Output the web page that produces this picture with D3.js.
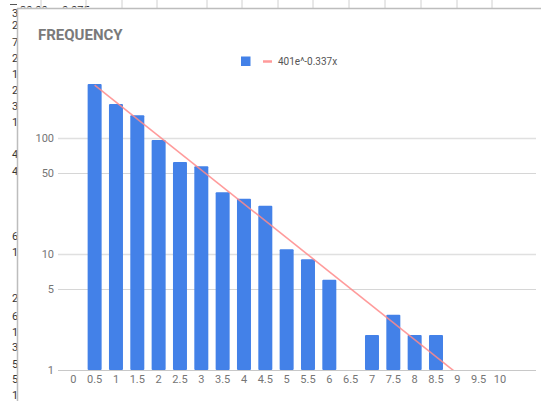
<!DOCTYPE html>
<html>
<head>
<meta charset="utf-8">
<script src="https://cdn.jsdelivr.net/npm/d3@7"></script>
<style>
  html, body { margin: 0; padding: 0; background: #fff; }
  svg { display: block; font-family: Roboto, "Noto Sans", sans-serif; }
</style>
</head>
<body>
<script>
// bucket labels (x) and counts (y)
const buckets = [0.5, 1, 1.5, 2, 2.5, 3, 3.5, 4, 4.5, 5, 5.5, 6, 6.5, 7, 7.5, 8, 8.5];
const counts = [292, 196, 157, 96, 62, 57, 34, 30, 26, 11, 9, 6, 1, 2, 3, 2, 2];
const xTicks = [0, 0.5, 1, 1.5, 2, 2.5, 3, 3.5, 4, 4.5, 5, 5.5, 6, 6.5, 7, 7.5, 8, 8.5, 9, 9.5, 10];
const yTicks = [1, 5, 10, 50, 100];
// trendline 401e^-0.337x, fitted on row index (index = 2 * bucket)
const trendA = 401;
const trendB = -0.337;
const trendRange = [0.5, 9.2];

// spreadsheet bits peeking out behind the chart card
const sheetColX = [41, 86, 122, 157, 207, 242, 278, 313, 349, 385, 421, 457, 492];
const sheetLeftDigits = [
  ["3", 13], ["2", 25], ["7", 42], ["2", 58], ["1", 74], ["2", 90], ["3", 106], ["1", 122],
  ["4", 154], ["4", 171], ["6", 236], ["1", 252], ["2", 298], ["6", 316], ["1", 332],
  ["3", 347], ["5", 364], ["5", 379], ["1", 395]
];

const width = 541, height = 401;
const svg = d3.select("body").append("svg")
  .attr("width", width)
  .attr("height", height);

/** BACKGROUND SHEET */
const sheet = svg.append("g").attr("class", "sheet");
sheet.append("clipPath").attr("id", "leftClip")
  .append("rect").attr("x", 0).attr("y", 0).attr("width", 17).attr("height", height);
sheet.append("clipPath").attr("id", "topClip")
  .append("rect").attr("x", 17).attr("y", 0).attr("width", width).attr("height", 7.5);

sheet.append("g").attr("clip-path", "url(#leftClip)")
  .selectAll("text")
  .data(sheetLeftDigits)
  .enter()
  .append("text")
  .attr("x", 12)
  .attr("y", (d) => d[1] + 4)
  .attr("font-size", "11px")
  .attr("fill", "#333")
  .text((d) => d[0]);

const topText = sheet.append("g").attr("clip-path", "url(#topClip)");
topText.append("text").attr("x", 20).attr("y", 14).attr("font-size", "11px").attr("fill", "#333").text("30.00");
topText.append("text").attr("x", 62).attr("y", 14).attr("font-size", "11px").attr("fill", "#333").text("0.075");

sheet.selectAll("line.col")
  .data(sheetColX)
  .enter()
  .append("line")
  .attr("class", "col")
  .attr("x1", (d) => d).attr("x2", (d) => d)
  .attr("y1", 0).attr("y2", 8)
  .attr("stroke", "#d0d0d0");
sheet.append("line")
  .attr("x1", 17).attr("x2", width).attr("y1", 8.5).attr("y2", 8.5)
  .attr("stroke", "#bdbdbd").attr("stroke-width", 1.5);
sheet.append("line")
  .attr("x1", 17.5).attr("x2", 17.5).attr("y1", 8).attr("y2", height)
  .attr("stroke", "#bdbdbd").attr("stroke-width", 1.5);
sheet.append("line")
  .attr("x1", 10).attr("x2", 17).attr("y1", 4.5).attr("y2", 4.5)
  .attr("stroke", "#555");

/** CHART */
const plotLeft = 58, plotRight = 536;
const x = d3.scaleLinear().domain([0, 10]).range([73.3, 500]);
const y = d3.scaleLog().domain([1, 300]).range([370, 370 - 116 * Math.log10(300)]);
const barWidth = 14;

// title
svg.append("text")
  .attr("x", 38)
  .attr("y", 40)
  .attr("font-size", "15px")
  .attr("font-weight", "bold")
  .attr("fill", "#7a7a7a")
  .text("FREQUENCY");

// gridlines
svg.append("g")
  .selectAll("line")
  .data(yTicks.filter((d) => d > 1))
  .enter()
  .append("line")
  .attr("x1", plotLeft).attr("x2", plotRight)
  .attr("y1", (d) => Math.round(y(d)) + 0.5)
  .attr("y2", (d) => Math.round(y(d)) + 0.5)
  .attr("stroke", (d) => (String(d)[0] === "1" ? "#e0e0e0" : "#d6d6d6"))
  .attr("stroke-width", (d) => (String(d)[0] === "1" ? 1.6 : 1));

// y labels
svg.append("g")
  .selectAll("text")
  .data(yTicks)
  .enter()
  .append("text")
  .attr("x", 54)
  .attr("y", (d) => y(d) + 4)
  .attr("text-anchor", "end")
  .attr("font-size", "11px")
  .attr("fill", "#757575")
  .text((d) => d);

// bars
svg.append("g")
  .selectAll("rect")
  .data(buckets)
  .enter()
  .append("rect")
  .attr("x", (d) => x(d) - barWidth / 2)
  .attr("y", (d, i) => y(counts[i]))
  .attr("width", barWidth)
  .attr("height", (d, i) => y(1) - y(counts[i]))
  .attr("rx", 1)
  .attr("fill", "#4381e8");

// baseline
svg.append("line")
  .attr("x1", plotLeft).attr("x2", plotRight)
  .attr("y1", 370.5).attr("y2", 370.5)
  .attr("stroke", "#c8c8c8")
  .attr("stroke-width", 1.2);

// x labels
svg.append("g")
  .selectAll("text")
  .data(xTicks)
  .enter()
  .append("text")
  .attr("x", (d) => x(d))
  .attr("y", 383)
  .attr("text-anchor", "middle")
  .attr("font-size", "11px")
  .attr("fill", "#757575")
  .text((d) => d);

// trendline
svg.append("clipPath").attr("id", "plotClip")
  .append("rect").attr("x", plotLeft).attr("y", 0).attr("width", plotRight - plotLeft).attr("height", 370);
const trendLine = d3.line()
  .x((d) => x(d))
  .y((d) => y(trendA * Math.exp(trendB * 2 * d)));
svg.append("path")
  .datum(trendRange)
  .attr("clip-path", "url(#plotClip)")
  .attr("d", trendLine)
  .attr("fill", "none")
  .attr("stroke", "#ff8a8a")
  .attr("stroke-opacity", 0.85)
  .attr("stroke-width", 1.6);

/** LEGEND */
const legend = svg.append("g");
legend.append("rect")
  .attr("x", 241).attr("y", 56.5)
  .attr("width", 9.5).attr("height", 9.5)
  .attr("fill", "#4381e8");
legend.append("line")
  .attr("x1", 263).attr("x2", 272)
  .attr("y1", 61.5).attr("y2", 61.5)
  .attr("stroke", "#ff9a9a")
  .attr("stroke-width", 2.5);
legend.append("text")
  .attr("x", 278)
  .attr("y", 65)
  .attr("font-size", "10px")
  .attr("fill", "#555")
  .text("401e^-0.337x");
</script>
</body>
</html>
